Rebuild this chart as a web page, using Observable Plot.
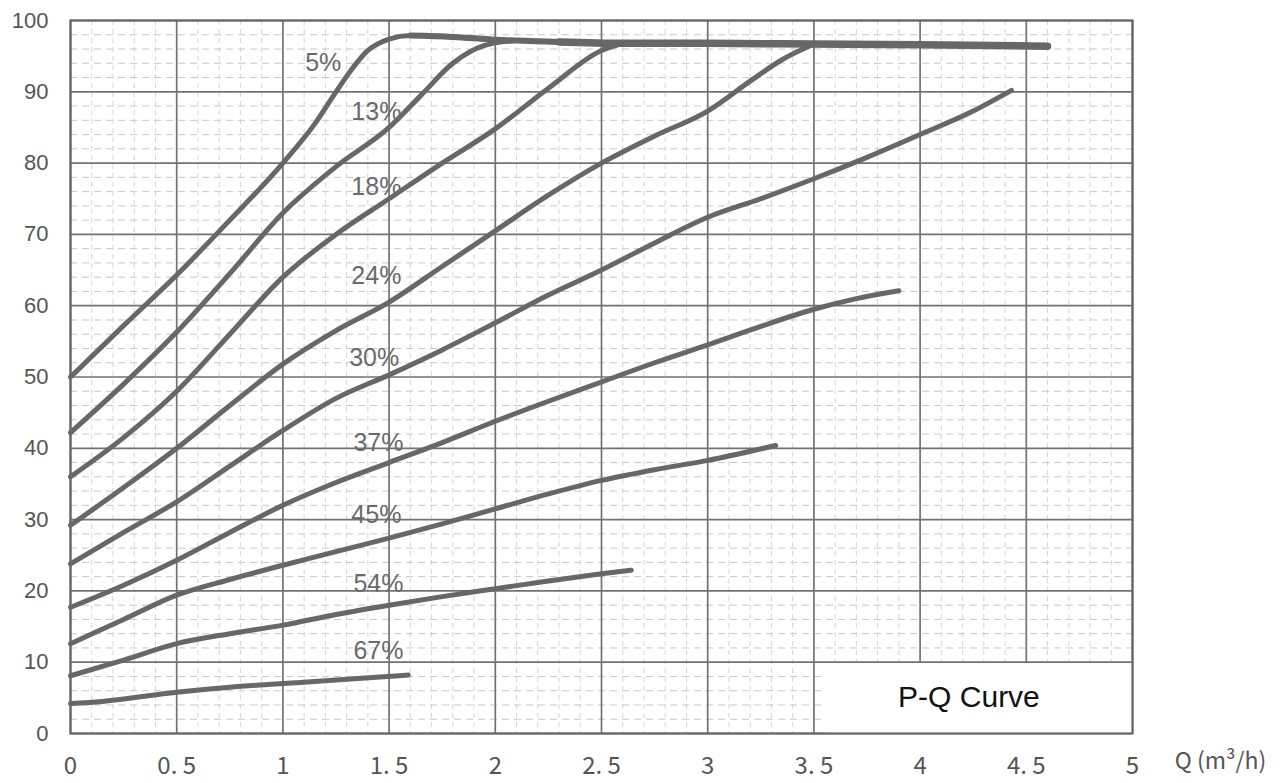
<!DOCTYPE html>
<html><head><meta charset="utf-8">
<script src="https://cdn.jsdelivr.net/npm/d3@7"></script>
<script src="https://cdn.jsdelivr.net/npm/@observablehq/plot@0.6"></script>
<style>
html,body{margin:0;padding:0;background:#fff;}
#chart svg{display:block;}
</style></head><body><div id="chart"></div>
<script>
// Series names (opening %) and their P-Q points [Q (m³/h), P]
const seriesNames = ["5%","13%","18%","24%","30%","37%","45%","54%","67%"];
const curve5  = [[0,50],[0.25,57.2],[0.5,64.3],[0.75,72],[1,80],[1.15,85.5],[1.25,90],[1.32,93],[1.4,95.8],[1.5,97.4],[1.6,97.9],[1.8,97.7],[2,97.3],[2.3,97],[2.6,96.8],[3,96.8],[3.5,96.7],[4,96.6],[4.6,96.4]];
const curve13 = [[0,42.2],[0.25,49],[0.5,56.3],[0.75,64.5],[1,73],[1.25,79.5],[1.5,85],[1.65,89.5],[1.8,94],[1.95,96.5],[2.1,97.2]];
const curve18 = [[0,36],[0.25,41.5],[0.5,48],[0.75,56],[1,64],[1.25,70],[1.5,75],[1.75,80],[2,84.8],[2.25,90.5],[2.5,95.8],[2.6,96.8]];
const curve24 = [[0,29.2],[0.25,34.5],[0.5,40],[0.75,46],[1,51.8],[1.25,56.5],[1.5,60.5],[1.75,65.5],[2,70.5],[2.25,75.5],[2.5,80],[2.75,83.8],[3,87.3],[3.2,91.5],[3.35,94.5],[3.5,96.7]];
const curve30 = [[0,23.8],[0.25,28.2],[0.5,32.5],[0.75,37.5],[1,42.5],[1.25,47],[1.5,50.3],[1.75,53.8],[2,57.6],[2.25,61.5],[2.5,65],[2.75,68.8],[3,72.4],[3.25,75],[3.5,77.8],[3.75,80.8],[4,84],[4.25,87.3],[4.43,90.2]];
const curve37 = [[0,17.7],[0.25,20.8],[0.5,24.3],[0.75,28.2],[1,32],[1.25,35.2],[1.5,38],[1.75,40.8],[2,43.8],[2.25,46.6],[2.5,49.3],[2.75,52],[3,54.5],[3.25,57.1],[3.5,59.5],[3.7,61],[3.9,62.1]];
const curve45 = [[0,12.6],[0.25,16],[0.5,19.4],[0.75,21.6],[1,23.6],[1.25,25.5],[1.5,27.4],[1.75,29.4],[2,31.5],[2.25,33.6],[2.5,35.5],[2.75,37],[3,38.3],[3.32,40.4]];
const curve54 = [[0,8.1],[0.25,10.3],[0.5,12.6],[0.75,14],[1,15.2],[1.25,16.7],[1.5,18],[1.75,19.2],[2,20.3],[2.25,21.4],[2.5,22.4],[2.64,22.9]];
const curve67 = [[0,4.2],[0.15,4.5],[0.5,5.8],[0.75,6.5],[1,7.0],[1.25,7.5],[1.59,8.2]];
const curves = [curve5, curve13, curve18, curve24, curve30, curve37, curve45, curve54, curve67];

// Series label anchor points (Q, P)
const labelQ = [1.19, 1.44, 1.44, 1.44, 1.43, 1.45, 1.44, 1.45, 1.45];
const labelP = [94.0, 87.2, 76.6, 64.2, 52.7, 40.8, 30.6, 21.0, 11.6];

// Axes
const xTicks = [0,0.5,1,1.5,2,2.5,3,3.5,4,4.5,5];
const xTickLabels = ["0","0. 5","1","1. 5","2","2. 5","3","3. 5","4","4. 5","5"];
const yTicks = [0,10,20,30,40,50,60,70,80,90,100];
const xAxisTitle = "Q (m³/h)";

// Caption box
const captionText = "P-Q Curve";
const captionBoxQ = [3.56, 5];
const captionBoxP = [0, 9.8];
const captionAt = [4.23, 5.0];

const rows = [];
curves.forEach((c, i) => c.forEach(([q, p]) => rows.push({series: seriesNames[i], q, p})));
const labels = seriesNames.map((name, i) => ({name, q: labelQ[i], p: labelP[i]}));
const topFlatA = curve5.filter(([q]) => q >= 1.6).map(([q, p]) => ({q, p}));
const topFlatB = curve5.filter(([q]) => q >= 2.3).map(([q, p]) => ({q, p}));

const isMajorX = v => Math.abs(v * 2 - Math.round(v * 2)) < 1e-6;
const minorX = d3.ticks(0, 5, 50).filter(v => !isMajorX(v));
const minorY = d3.ticks(0, 100, 50).filter(v => Math.abs(v % 10) > 1e-6);

const lineColor = "#676767";
const axisFont = "'Noto Sans CJK JP', 'Noto Sans', sans-serif";
const labelFont = "'Liberation Sans', Arial, sans-serif";

const chart = Plot.plot({
  width: 1285, height: 783,
  marginLeft: 70, marginRight: 153, marginTop: 20, marginBottom: 50,
  x: {domain: [0, 5], label: null},
  y: {domain: [0, 100], label: null},
  style: {background: "#fff", fontFamily: "'Liberation Sans', Arial, sans-serif", color: "#555"},
  marks: [
    Plot.ruleX(minorX, {stroke: "#d6d6d6", strokeWidth: 1, strokeDasharray: "5,4"}),
    Plot.ruleY(minorY, {stroke: "#c8c8c8", strokeWidth: 1, strokeDasharray: "7,5"}),
    Plot.ruleX(xTicks, {stroke: "#727272", strokeWidth: 1.7}),
    Plot.ruleY(yTicks, {stroke: "#727272", strokeWidth: 1.7}),
    Plot.rect([{x1: captionBoxQ[0], x2: captionBoxQ[1], y1: captionBoxP[0], y2: captionBoxP[1]}],
      {x1: "x1", x2: "x2", y1: "y1", y2: "y2", fill: "#fff"}),
    Plot.frame({stroke: "#666", strokeWidth: 2.2}),
    Plot.line(rows, {x: "q", y: "p", z: "series", stroke: lineColor, strokeWidth: 5,
      curve: "monotone-x", strokeLinecap: "round", strokeLinejoin: "round"}),
    Plot.line(topFlatA, {x: "q", y: "p", stroke: lineColor, strokeWidth: 6,
      curve: "monotone-x", strokeLinecap: "round"}),
    Plot.line(topFlatB, {x: "q", y: "p", stroke: lineColor, strokeWidth: 7.5,
      curve: "monotone-x", strokeLinecap: "round"}),
    Plot.text(labels, {x: "q", y: "p", text: "name", fontSize: 25, fill: "#6a6a6a", fontFamily: labelFont}),
    Plot.text([captionText], {x: () => captionAt[0], y: () => captionAt[1], text: d => d,
      fontSize: 30, fill: "#111"}),
    Plot.axisY({ticks: yTicks, tickSize: 0, tickPadding: 22, fontSize: 22, fill: "#555", label: null}),
    Plot.axisX({ticks: xTicks, tickFormat: d => xTickLabels[xTicks.indexOf(d)], tickSize: 0,
      tickPadding: 23, fontSize: 24, fill: "#555", fontFamily: axisFont, label: null}),
    Plot.text([xAxisTitle], {frameAnchor: "bottom-right", text: d => d, dx: 88, dy: 35,
      textAnchor: "middle", fontSize: 23, fill: "#555", fontFamily: axisFont})
  ]
});
document.getElementById("chart").appendChild(chart);
</script></body></html>
